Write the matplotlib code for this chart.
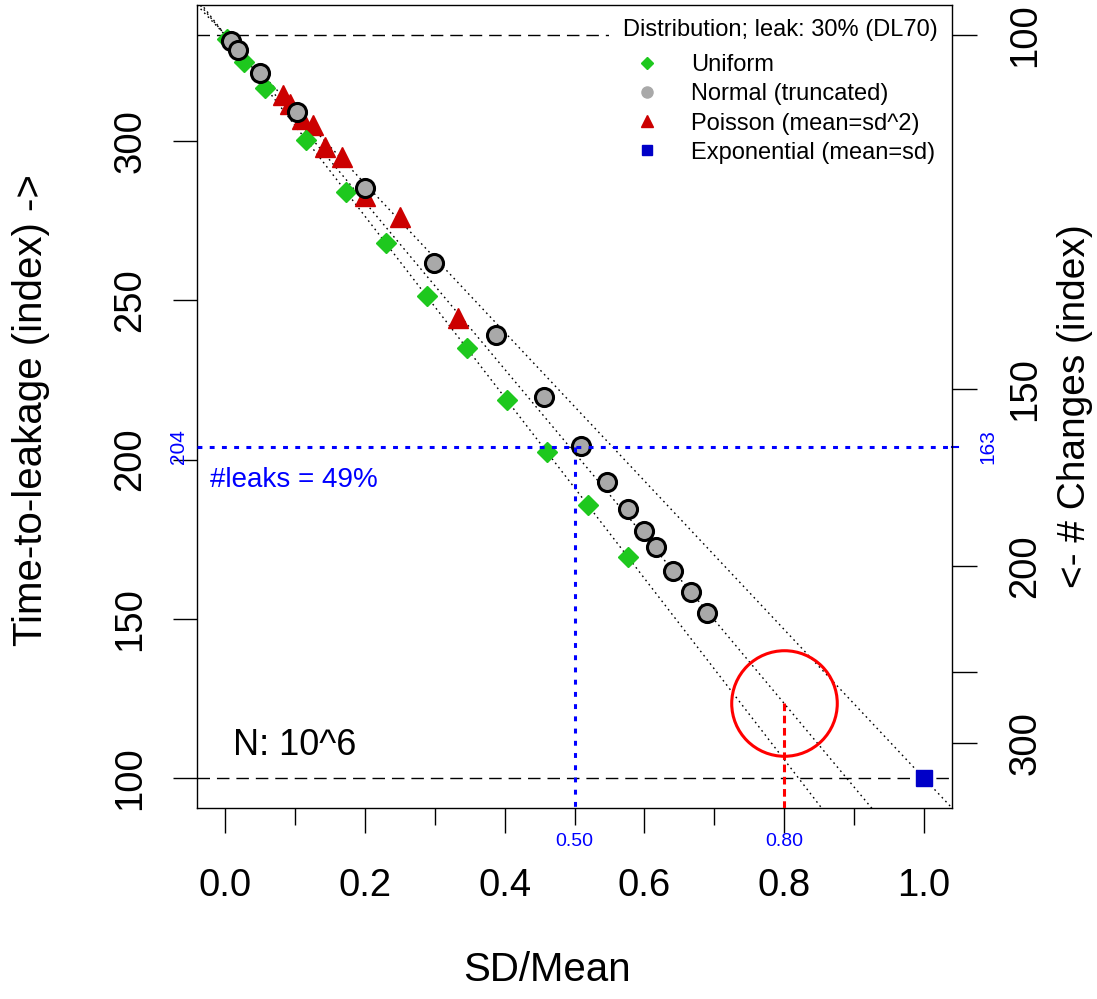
import matplotlib.pyplot as plt
import matplotlib.transforms as mtransforms
from matplotlib.lines import Line2D

plt.rcParams['font.family'] = ['Liberation Sans', 'DejaVu Sans']

# values: SD/Mean vs time-to-leakage (index)
unif_x = [0.003, 0.027, 0.057, 0.116, 0.173, 0.231, 0.289, 0.346, 0.404, 0.461, 0.520, 0.577]
unif_t = [332.0, 324.7, 316.6, 300.3, 283.9, 267.9, 251.3, 235.0, 218.7, 202.4, 185.7, 169.4]

norm_x = [0.009, 0.019, 0.050, 0.103, 0.201, 0.299, 0.387, 0.457, 0.510, 0.547,
          0.576, 0.599, 0.616, 0.641, 0.667, 0.690]
norm_t = [331.3, 328.5, 321.3, 309.1, 285.2, 261.7, 239.1, 219.6, 204.3, 193.0,
          184.5, 177.6, 172.6, 165.0, 158.4, 151.9]

pois_x = [0.083, 0.093, 0.110, 0.126, 0.143, 0.167, 0.200, 0.250, 0.333]
pois_t = [314.4, 311.6, 306.9, 305.0, 298.1, 294.9, 282.7, 276.1, 244.4]

expo_x = [1.0]
expo_t = [100.0]

# reference lines t = t_top * (1 - k * x)
t_top = 333.33
t_bottom = 100.0
ref_k = [0.853, 0.787, 0.70]

# right axis: # changes = 100 * t_top / t
change_ticks = [100, 150, 200, 250, 300]
change_labels = ['100', '150', '200', '', '300']

# markers of interest
cross_x = 0.50
cross_t = 204.0
cross_changes = 163
leaks_pct = 49
circle_x = 0.80

fig = plt.figure(figsize=(10.97, 9.99), dpi=100)
ax = fig.add_axes([197 / 1097, 1 - 808 / 999, 755 / 1097, 803 / 999])
ax.set_xlim(-0.04, 1.04)
ax.set_ylim(90.67, 342.67)

# dashed limits
ax.axhline(t_top, color='black', lw=1.0, ls=(0, (9, 5)), zorder=1)
ax.axhline(t_bottom, color='black', lw=1.0, ls=(0, (9, 5)), zorder=1)

# dotted reference lines
xx = [-0.04, 1.04]
for k in ref_k:
    ax.plot(xx, [t_top * (1 - k * v) for v in xx], color='black', lw=1.0,
            ls=(0, (1.2, 2.6)), zorder=1)

ax.plot(pois_x, pois_t, '^', color='#cc0000', ms=15, zorder=3)
ax.plot(unif_x, unif_t, 'D', color='#1ec81e', ms=9.7, zorder=3)
ax.plot(norm_x, norm_t, 'o', mfc='#a9a9a9', mec='black', ms=13, mew=2.2, zorder=3)
ax.plot(expo_x, expo_t, 's', color='#0000c8', ms=12, zorder=3)

# blue cross-hair
ax.axhline(cross_t, color='blue', lw=2.2, ls=(0, (1.6, 2.4)), zorder=4)
ax.plot([cross_x, cross_x], [cross_t, 90.67], color='blue', lw=2.2,
        ls=(0, (1.6, 2.4)), zorder=4)

# red circle on middle line
k_mid = ref_k[1]
circle_t = t_top * (1 - k_mid * circle_x)
ax.plot([circle_x], [circle_t], 'o', ms=76, mfc='none', mec='red', mew=2.2, zorder=5)
ax.plot([circle_x, circle_x], [circle_t, 90.67], color='red', lw=2.2,
        ls=(0, (2.5, 1.5)), zorder=4)

ax.text(0.012, 110.4, 'N: 10^6', fontsize=26, va='center', ha='left')
ax.text(-0.021, 193.5, '#leaks = %d%%' % leaks_pct, fontsize=20, color='blue',
        va='center', ha='left')

# axes and ticks
ax.set_xticks([0.0, 0.2, 0.4, 0.6, 0.8, 1.0])
ax.set_xticklabels(['0.0', '0.2', '0.4', '0.6', '0.8', '1.0'])
ax.set_xticks([0.1, 0.3, 0.5, 0.7, 0.9], minor=True)
ax.tick_params(axis='x', which='major', length=18, width=1.0, labelsize=27.5, pad=25)
ax.tick_params(axis='x', which='minor', length=12, width=1.0)
ax.set_yticks([100, 150, 200, 250, 300])
ax.tick_params(axis='y', length=17, width=1.0, labelsize=27.5, pad=18)
plt.setp(ax.get_yticklabels(), rotation=90, va='center')
for s in ax.spines.values():
    s.set_linewidth(1.0)

ax2 = ax.twinx()
ax2.set_ylim(ax.get_ylim())
ax2.set_yticks([100 * t_top / c for c in change_ticks])
ax2.set_yticklabels(change_labels)
ax2.tick_params(axis='y', length=18, width=1.0, labelsize=27.5, pad=22)
plt.setp(ax2.get_yticklabels(), rotation=90, va='center')
for s in ax2.spines.values():
    s.set_visible(False)

# blue value labels
ytrans = mtransforms.blended_transform_factory(ax.transAxes, ax.transData)
ax.text(-0.012, cross_t, '%d' % round(cross_t), transform=ytrans, rotation=90,
        color='blue', fontsize=15, ha='right', va='center')
ax.text(1.047, cross_t, '%d' % cross_changes, transform=ytrans, rotation=90,
        color='blue', fontsize=15, ha='center', va='center', clip_on=False)
ax.plot([1.0, 1.008], [cross_t, cross_t], transform=ytrans, color='blue', lw=1.5,
        clip_on=False)
xtrans = mtransforms.blended_transform_factory(ax.transData, ax.transAxes)
for v in [cross_x, circle_x]:
    ax.text(v, -0.042, '%.2f' % v, transform=xtrans, color='blue', fontsize=14,
            ha='center', va='center')

fig.text(547 / 1097, 1 - 970 / 999, 'SD/Mean', fontsize=29, ha='center', va='center')
fig.text(31 / 1097, 1 - 410 / 999, 'Time-to-leakage (index) ->', fontsize=29,
         rotation=90, ha='center', va='center')
fig.text(1075 / 1097, 1 - 406 / 999, '<- # Changes (index)', fontsize=28,
         rotation=90, ha='center', va='center')

handles = [
    Line2D([], [], marker='D', color='#1ec81e', ls='none', ms=6.5),
    Line2D([], [], marker='o', color='#a9a9a9', ls='none', ms=8),
    Line2D([], [], marker='^', color='#cc0000', ls='none', ms=9),
    Line2D([], [], marker='s', color='#0000c8', ls='none', ms=7),
]
labels = ['Uniform', 'Normal (truncated)', 'Poisson (mean=sd^2)', 'Exponential (mean=sd)']
leg = ax.legend(handles, labels, title='Distribution; leak: 30% (DL70)',
                loc='upper right', bbox_to_anchor=(1, 1), borderaxespad=0,
                fontsize=17, title_fontsize=17, frameon=True, fancybox=False,
                edgecolor='none', framealpha=1, handlelength=1.8,
                handletextpad=1.0, labelspacing=0.3, borderpad=0.6)
leg._legend_box.sep = 9.5
leg.set_zorder(2)  # above the dashed line, below the spines

fig.savefig('out.png', dpi=100)
